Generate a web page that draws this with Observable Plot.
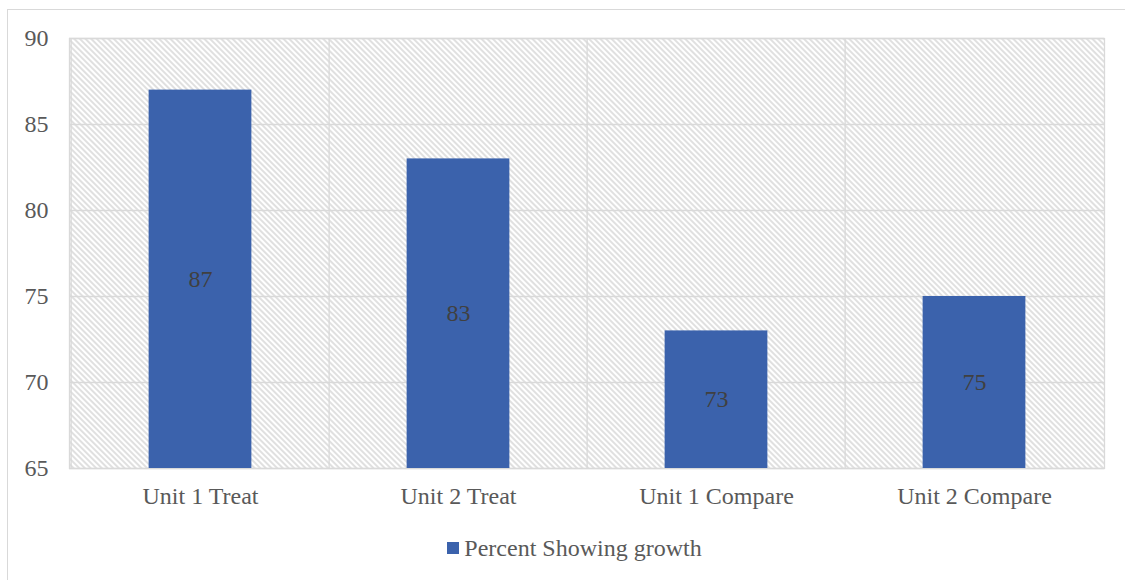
<!DOCTYPE html>
<html>
<head>
<meta charset="utf-8">
<script src="https://cdn.jsdelivr.net/npm/d3@7"></script>
<script src="https://cdn.jsdelivr.net/npm/@observablehq/plot@0.6"></script>
<style>
  html, body { margin: 0; padding: 0; background: #fff; }
  #wrap { position: relative; width: 1125px; height: 580px; overflow: hidden; font-family: "Liberation Serif", "Times New Roman", serif; }
  #border { position: absolute; left: 7px; top: 9px; width: 1130px; height: 580px; border: 1px solid #d9d9d9; box-sizing: border-box; }
  #chart { position: absolute; left: 0; top: 0; }
  #chart svg, #chart svg text { font-family: "Liberation Serif", "Times New Roman", serif; }
  #legend { position: absolute; left: 12px; width: 1125px; top: 533px; text-align: center; font-size: 24px; line-height: 30px; color: #595959; }
  #legend .sw { display: inline-block; width: 12px; height: 12px; background: #3b62ac; margin-right: 5px; vertical-align: 2px; }
</style>
</head>
<body>
<div id="wrap">
  <div id="border"></div>
  <div id="chart"></div>
  <div id="legend"><span class="sw"></span>Percent Showing growth</div>
</div>
<script>
const categories = ["Unit 1 Treat", "Unit 2 Treat", "Unit 1 Compare", "Unit 2 Compare"];
const values = [87, 83, 73, 75];
const yTicks = [65, 70, 75, 80, 85, 90];
const seriesName = "Percent Showing growth";

const data = categories.map((c, i) => ({category: c, value: values[i]}));
const barColor = "#3b62ac";
const W = 1125, ML = 69, MR = 21;
const band = (W - ML - MR) / categories.length;

const plot = Plot.plot({
  width: W,
  height: 520,
  marginLeft: ML,
  marginRight: MR,
  marginTop: 38,
  marginBottom: 52,
  style: {fontSize: "24px", color: "#595959", background: "transparent"},
  x: {domain: categories, padding: 0, label: null, tickSize: 0, tickPadding: 18},
  y: {domain: [65, 90], ticks: yTicks, label: null, tickSize: 0, tickPadding: 21},
  marks: [
    Plot.frame({fill: "url(#hatch)", stroke: "none"}),
    Plot.ruleY(yTicks, {stroke: "#d9d9d9", strokeWidth: 1.3}),
    Plot.ruleX(categories, {x: d => d, dx: -band / 2, stroke: "#d9d9d9", strokeWidth: 1.3}),
    Plot.frame({stroke: "#d9d9d9", strokeWidth: 1.3}),
    Plot.barY(data, {x: "category", y1: 65, y2: "value", fill: barColor, insetLeft: band * 0.3, insetRight: band * 0.3}),
    Plot.text(data, {x: "category", y: d => (d.value + 65) / 2, text: d => String(d.value), fill: "#404040", fontSize: 24})
  ]
});

const svgNS = "http://www.w3.org/2000/svg";
const defs = document.createElementNS(svgNS, "defs");
defs.innerHTML = `<pattern id="hatch" patternUnits="userSpaceOnUse" width="4" height="4" patternTransform="rotate(-45)">
  <rect width="4" height="4" fill="#ffffff"/>
  <line x1="1" y1="0" x2="1" y2="4" stroke="#d6d6d6" stroke-width="1.5"/>
</pattern>`;
plot.insertBefore(defs, plot.firstChild);
document.getElementById("chart").appendChild(plot);
</script>
</body>
</html>
